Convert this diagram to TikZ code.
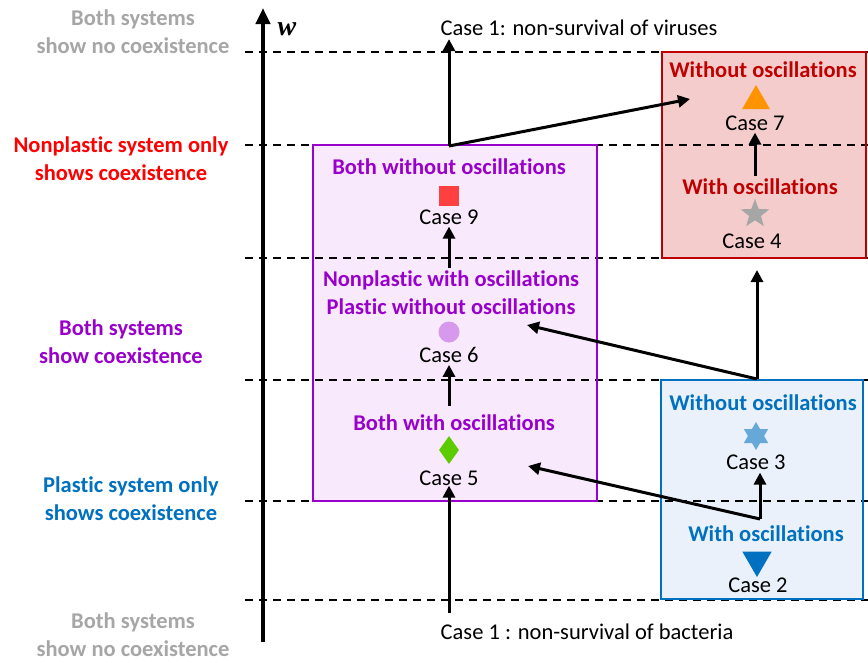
\documentclass[tikz,border=0pt]{standalone}
\usepackage{fontspec}
\setmainfont{Carlito}[RawFeature={-liga}]
\newfontfamily\wfont{Liberation Serif}
\usetikzlibrary{shapes.geometric,arrows.meta}
\definecolor{cgray}{HTML}{A6A6A6}
\definecolor{cred}{HTML}{FF0000}
\definecolor{dred}{HTML}{C00000}
\definecolor{cpur}{HTML}{9900CC}
\definecolor{cblue}{HTML}{0070C0}
\definecolor{pfill}{HTML}{F8EAFC}
\definecolor{rfill}{HTML}{F5CCCC}
\definecolor{bfill}{HTML}{EAF1FA}
\begin{document}
\begin{tikzpicture}[x=1pt,y=-1pt,
  lbl/.style={font=\fontsize{22.5}{28}\selectfont\bfseries, align=center},
  casetxt/.style={font=\fontsize{22.5}{26}\selectfont, text=black, inner sep=0pt},
  arr/.style={line width=3pt, -{Triangle[length=12pt,width=12pt]}},
  dline/.style={line width=1.5pt, dash pattern=on 8pt off 6pt},
  boxp/.style={line width=2pt}
]
\useasboundingbox (0,0) rectangle (868,662);
% box fills
\fill[pfill] (313,145) rectangle (597,501);
\fill[rfill] (662,52) rectangle (866,258);
\fill[bfill] (661,380) rectangle (863,599);
% dashed levels
\foreach \yy in {52,145,258,380,501,600}{
  \draw[dline] (245,\yy) -- (868,\yy);
}
% box borders
\draw[cpur,boxp] (313,145) rectangle (597,501);
\draw[dred,boxp] (662,52) rectangle (866,258);
\draw[cblue,boxp] (661,380) rectangle (863,599);
% axis
\draw[line width=4pt, -{Triangle[length=16pt,width=14pt]}] (263,642) -- (263,8);
\node (w) at (287,29) {\wfont\fontsize{28}{28}\selectfont\bfseries\itshape w};
% left labels
\node[lbl,text=cgray] (l1) at (133,32) {Both systems\\show no coexistence};
\node[lbl,text=cred] (l2) at (121,159) {Nonplastic system only\\shows coexistence};
\node[lbl,text=cpur] (l3) at (121,342) {Both systems\\show coexistence};
\node[lbl,text=cblue] (l4) at (131,499) {Plastic system only\\shows coexistence};
\node[lbl,text=cgray] (l5) at (133,635) {Both systems\\show no coexistence};
% top/bottom case 1
\node[casetxt] (v) at (579,28) {Case 1: non-survival of viruses};
\node[casetxt] (b) at (587,632) {Case 1 : non-survival of bacteria};
% purple box contents
\node[lbl,text=cpur] (p9) at (449,167) {Both without oscillations};
\node[rectangle,fill=cred!75,minimum size=20pt,inner sep=0pt] (s9) at (449,196) {};
\node[casetxt] (c9) at (449,217) {Case 9};
\node[lbl,text=cpur] (p6) at (451,293) {Nonplastic with oscillations\\Plastic without oscillations};
\node[circle,fill=cpur!40,minimum size=21pt,inner sep=0pt] (s6) at (449,332) {};
\node[casetxt] (c6) at (449,355) {Case 6};
\node[lbl,text=cpur] (p5) at (454,423) {Both with oscillations};
\node[diamond,fill=green!55!yellow!80!black,minimum width=20pt,minimum height=28pt,inner sep=0pt,aspect=0.7] (s5) at (449,450) {};
\node[casetxt] (c5) at (449,478) {Case 5};
% red box contents
\node[lbl,text=dred] (r7) at (763,70) {Without oscillations};
\node[regular polygon,regular polygon sides=3,fill=orange!85!yellow,minimum size=32pt,inner sep=0pt] (s7) at (756,101) {};
\node[casetxt] (c7) at (755,123) {Case 7};
\node[lbl,text=dred] (r4) at (760,187) {With oscillations};
\node[star,star points=5,star point ratio=2.4,fill=cgray,minimum size=30pt,inner sep=0pt] (s4) at (755,214) {};
\node[casetxt] (c4) at (752,241) {Case 4};
% blue box contents
\node[lbl,text=cblue] (b3) at (763,403) {Without oscillations};
\node[regular polygon,regular polygon sides=3,fill=cblue!60!white,minimum size=28pt,inner sep=0pt] (s3a) at (756,436) {};
\node[regular polygon,regular polygon sides=3,shape border rotate=180,fill=cblue!60!white,minimum size=28pt,inner sep=0pt] (s3b) at (756,436) {};
\node[casetxt] (c3) at (756,462) {Case 3};
\node[lbl,text=cblue] (b2) at (766,534) {With oscillations};
\node[regular polygon,regular polygon sides=3,shape border rotate=180,fill=cblue,minimum size=34pt,inner sep=0pt] (s2) at (757,560) {};
\node[casetxt] (c2) at (758,585) {Case 2};
% junction coordinates
\coordinate (j1) at (449,146);
\coordinate (j2) at (757,379);
\coordinate (j3) at (760,519);
\coordinate (t7) at (690,99);
\coordinate (t6) at (527,325);
\coordinate (t5) at (528,466);
\coordinate (bb) at (449,613);
\coordinate (m96) at (449,268);
\coordinate (m65) at (449,406);
\coordinate (m47) at (755,176);
% arrows
\draw[arr] (bb) -- (c5.south);
\draw[arr] (m65) -- ([yshift=-2pt]c6.south);
\draw[arr] (m96) -- ([yshift=-2pt]c9.south);
\draw[arr] (j1) -- ([yshift=-3pt]v.south -| j1);
\draw[arr] (j1) -- (t7);
\draw[arr] (m47) -- ([yshift=-2pt]c7.south);
\draw[arr] (j2) -- (757,270);
\draw[arr] (j2) -- (t6);
\draw[arr] (j3) -- ([yshift=-3pt]c3.south -| j3);
\draw[arr] (j3) -- (t5);
\end{tikzpicture}
\end{document}
